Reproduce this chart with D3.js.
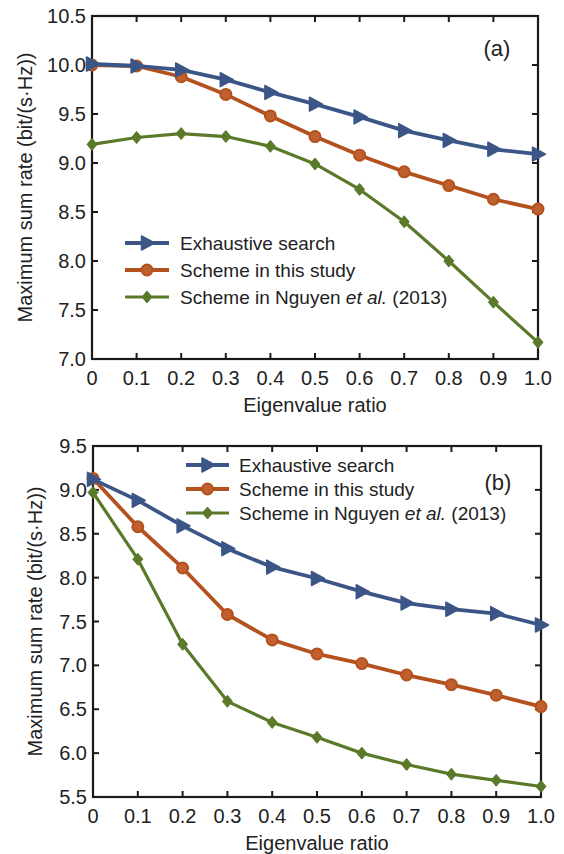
<!DOCTYPE html>
<html>
<head>
<meta charset="utf-8">
<script src="https://cdn.jsdelivr.net/npm/d3@7"></script>
<style>
  body { margin: 0; background: #fff; }
  svg { display: block; font-family: "Liberation Sans", Arial, sans-serif; }
  .tick-label { font-size: 20px; fill: #222; }
  .axis-title { font-size: 20px; fill: #222; }
  .panel-tag { font-size: 22px; fill: #222; }
  .legend-text { font-size: 19px; fill: #222; }
</style>
</head>
<body>
<div id="wrapper"></div>
<script>
// eigenvalue ratio on the x axis
const ratios = [0, 0.1, 0.2, 0.3, 0.4, 0.5, 0.6, 0.7, 0.8, 0.9, 1.0];

// panel (a)
const exhaustiveA = [10.01, 9.99, 9.95, 9.85, 9.72, 9.60, 9.47, 9.33, 9.23, 9.14, 9.09];
const schemeA     = [10.00, 9.99, 9.88, 9.70, 9.48, 9.27, 9.08, 8.91, 8.77, 8.63, 8.53];
const nguyenA     = [9.19, 9.26, 9.30, 9.27, 9.17, 8.99, 8.73, 8.40, 8.00, 7.58, 7.17];

// panel (b)
const exhaustiveB = [9.12, 8.88, 8.59, 8.33, 8.12, 7.99, 7.84, 7.71, 7.64, 7.59, 7.46];
const schemeB     = [9.13, 8.58, 8.11, 7.58, 7.29, 7.13, 7.02, 6.89, 6.78, 6.66, 6.53];
const nguyenB     = [8.97, 8.21, 7.24, 6.59, 6.35, 6.18, 6.00, 5.87, 5.76, 5.69, 5.62];

const yTicksA = [7.0, 7.5, 8.0, 8.5, 9.0, 9.5, 10.0, 10.5];
const yTicksB = [5.5, 6.0, 6.5, 7.0, 7.5, 8.0, 8.5, 9.0, 9.5];

const seriesNames = ["Exhaustive search", "Scheme in this study", "Scheme in Nguyen et al. (2013)"];

async function drawChart() {

    const width = 564;
    const height = 854;

    const colors = ["#3b5686", "#b4521f", "#5a7a2a"];
    const markers = ["triangle", "circle", "diamond"];

    const panels = [
        {
            tag: "(a)", series: [exhaustiveA, schemeA, nguyenA], yTicks: yTicksA,
            left: 92, right: 538, top: 16, bottom: 359,
            yTitleX: 25, tagX: 497, tagY: 48,
            legend: { x1: 125, x2: 169, textX: 180, rows: [243, 270, 297] },
        },
        {
            tag: "(b)", series: [exhaustiveB, schemeB, nguyenB], yTicks: yTicksB,
            left: 93, right: 541, top: 446, bottom: 797,
            yTitleX: 35, tagX: 498, tagY: 482,
            legend: { x1: 186, x2: 229, textX: 239, rows: [465, 489, 513] },
        },
    ];

    const wrapper = d3.select("#wrapper")
        .append("svg")
        .attr("width", width)
        .attr("height", height);

    const drawMarker = (g, type, x, y, color) => {
        if (type === "triangle") {
            g.append("path")
                .attr("d", `M${x - 5.5},${y - 7} L${x + 7.5},${y} L${x - 5.5},${y + 7} Z`)
                .attr("fill", color)
                .attr("stroke", color)
                .attr("stroke-width", 1.5)
                .attr("stroke-linejoin", "round");
        } else if (type === "circle") {
            g.append("circle")
                .attr("cx", x).attr("cy", y).attr("r", 5.5)
                .attr("fill", "#c0602f")
                .attr("stroke", color)
                .attr("stroke-width", 2);
        } else {
            g.append("path")
                .attr("d", `M${x},${y - 6} L${x + 5},${y} L${x},${y + 6} L${x - 5},${y} Z`)
                .attr("fill", color)
                .attr("stroke", color)
                .attr("stroke-width", 1);
        }
    };

    panels.forEach(p => {
        const xScale = d3.scaleLinear()
            .domain([0, 1])
            .range([p.left, p.right]);

        const yScale = d3.scaleLinear()
            .domain([p.yTicks[0], p.yTicks[p.yTicks.length - 1]])
            .range([p.bottom, p.top]);

        const g = wrapper.append("g");

        // ticks on all four sides, pointing inward
        const tickLen = 6;
        const axisColor = "#1a1a1a";
        ratios.forEach(r => {
            const x = xScale(r);
            g.append("line").attr("x1", x).attr("x2", x)
                .attr("y1", p.bottom).attr("y2", p.bottom - tickLen)
                .attr("stroke", axisColor).attr("stroke-width", 2);
            g.append("line").attr("x1", x).attr("x2", x)
                .attr("y1", p.top).attr("y2", p.top + tickLen)
                .attr("stroke", axisColor).attr("stroke-width", 2);
            g.append("text")
                .attr("class", "tick-label")
                .attr("x", x)
                .attr("y", p.bottom + 19)
                .attr("dy", "0.35em")
                .attr("text-anchor", "middle")
                .text(r === 0 ? "0" : r.toFixed(1));
        });

        p.yTicks.forEach(t => {
            const y = yScale(t);
            g.append("line").attr("x1", p.left).attr("x2", p.left + tickLen)
                .attr("y1", y).attr("y2", y)
                .attr("stroke", axisColor).attr("stroke-width", 2);
            g.append("line").attr("x1", p.right).attr("x2", p.right - tickLen)
                .attr("y1", y).attr("y2", y)
                .attr("stroke", axisColor).attr("stroke-width", 2);
            g.append("text")
                .attr("class", "tick-label")
                .attr("x", p.left - 6)
                .attr("y", y)
                .attr("dy", "0.35em")
                .attr("text-anchor", "end")
                .text(t.toFixed(1));
        });

        g.append("rect")
            .attr("x", p.left).attr("y", p.top)
            .attr("width", p.right - p.left)
            .attr("height", p.bottom - p.top)
            .attr("fill", "none")
            .attr("stroke", axisColor)
            .attr("stroke-width", 2.2);

        // axis titles
        g.append("text")
            .attr("class", "axis-title")
            .attr("x", (p.left + p.right) / 2)
            .attr("y", p.bottom + 46)
            .attr("dy", "0.35em")
            .attr("text-anchor", "middle")
            .text("Eigenvalue ratio");

        g.append("text")
            .attr("class", "axis-title")
            .attr("transform", `translate(${p.yTitleX}, ${(p.top + p.bottom) / 2}) rotate(-90)`)
            .attr("dy", "0.35em")
            .attr("text-anchor", "middle")
            .text("Maximum sum rate (bit/(s\u00b7Hz))");

        g.append("text")
            .attr("class", "panel-tag")
            .attr("x", p.tagX)
            .attr("y", p.tagY)
            .attr("dy", "0.35em")
            .attr("text-anchor", "middle")
            .text(p.tag);

        // 5. Draw data (green first so blue sits on top)
        const lineGenerator = d3.line()
            .x((d, i) => xScale(ratios[i]))
            .y(d => yScale(d));

        [2, 1, 0].forEach(s => {
            g.append("path")
                .datum(p.series[s])
                .attr("d", lineGenerator)
                .attr("fill", "none")
                .attr("stroke", colors[s])
                .attr("stroke-width", s === 2 ? 3.2 : 3.8)
                .attr("stroke-linejoin", "round");
            p.series[s].forEach((v, i) => {
                drawMarker(g, markers[s], xScale(ratios[i]), yScale(v), colors[s]);
            });
        });

        // legend
        seriesNames.forEach((name, s) => {
            const y = p.legend.rows[s];
            g.append("line")
                .attr("x1", p.legend.x1).attr("x2", p.legend.x2)
                .attr("y1", y).attr("y2", y)
                .attr("stroke", colors[s])
                .attr("stroke-width", s === 2 ? 3.2 : 3.8);
            drawMarker(g, markers[s], (p.legend.x1 + p.legend.x2) / 2, y, colors[s]);

            const text = g.append("text")
                .attr("class", "legend-text")
                .attr("x", p.legend.textX)
                .attr("y", y)
                .attr("dy", "0.35em");
            if (name.includes("et al.")) {
                const [before, after] = name.split("et al.");
                text.append("tspan").text(before);
                text.append("tspan").attr("font-style", "italic").text("et al.");
                text.append("tspan").text(after);
            } else {
                text.text(name);
            }
        });
    });
}

drawChart();
</script>
</body>
</html>
